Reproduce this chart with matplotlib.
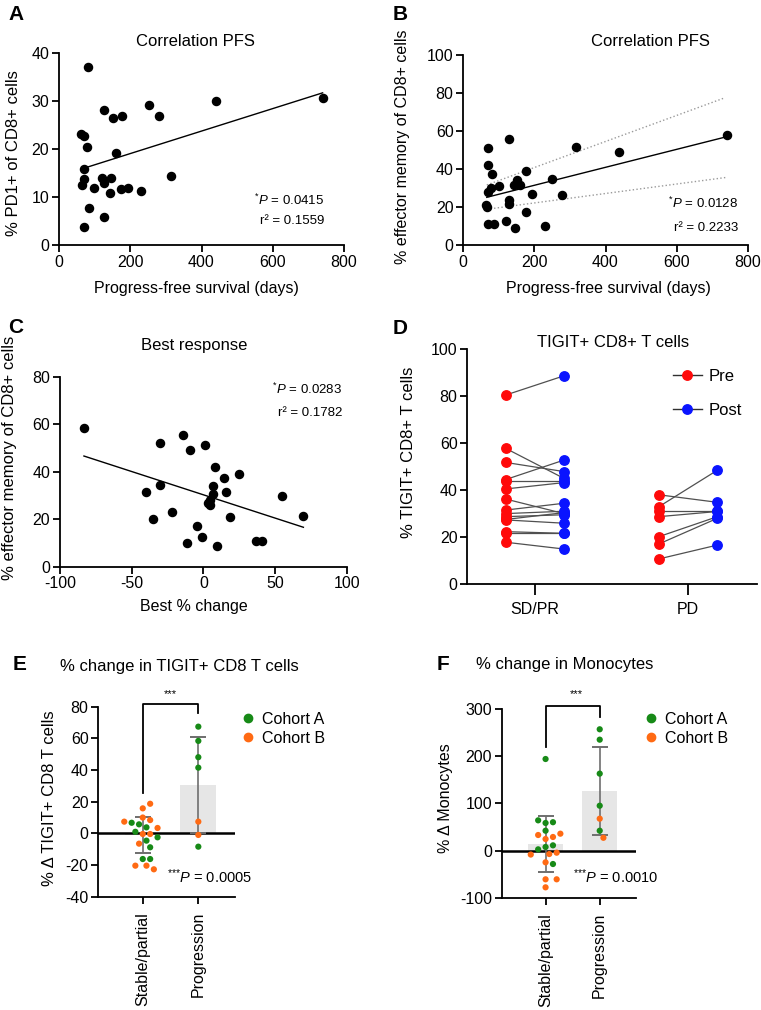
import numpy as np
import matplotlib
matplotlib.use('Agg')
import matplotlib.pyplot as plt
from matplotlib.lines import Line2D

plt.rcParams['font.family'] = ['Liberation Sans', 'DejaVu Sans']
plt.rcParams['mathtext.fontset'] = 'custom'
plt.rcParams['mathtext.rm'] = 'Liberation Sans'
plt.rcParams['mathtext.it'] = 'Liberation Sans:italic'
plt.rcParams['mathtext.bf'] = 'Liberation Sans:bold'
plt.rcParams['axes.unicode_minus'] = False

W, H = 761, 1010
TICK_FS = 11.5
LAB_FS = 11.5
TITLE_FS = 12

# ---------------- data ----------------
# Panel A: PFS (days) vs % PD1+ of CD8+
a_pfs = [81, 127, 152, 176, 252, 280, 441, 741, 62, 70, 79, 160, 70, 70, 65, 99,
         120, 127, 146, 142, 174, 195, 230, 315, 83, 127, 70]
a_pd1 = [37.0, 28.1, 26.4, 26.9, 29.1, 26.9, 29.9, 30.6, 23.1, 22.8, 20.4, 19.2,
         15.8, 13.8, 12.4, 11.8, 13.9, 13.0, 14.0, 10.9, 11.6, 11.8, 11.3, 14.3,
         7.8, 5.8, 3.7]
a_fit_x = [70, 740]
a_fit_y = [16.0, 31.7]

# Panel B: PFS vs % effector memory of CD8+
b_pfs = [69, 128, 69, 82, 175, 316, 438, 741, 250, 100, 151, 143, 160, 78, 69,
         194, 279, 128, 128, 63, 66, 175, 121, 69, 86, 146, 230]
b_em = [51.0, 55.6, 41.9, 37.2, 38.8, 51.7, 48.8, 58.1, 34.7, 30.9, 34.2, 31.4,
        31.6, 30.0, 27.7, 26.8, 26.1, 23.5, 21.6, 20.9, 20.0, 17.2, 12.8, 11.2,
        11.2, 8.9, 10.0]
b_fit_x = [66, 741]
b_fit_y = [25.1, 57.0]
b_ci_hi_x = [66, 736]
b_ci_hi_y = [31.6, 77.5]
b_ci_lo_x = [66, 741]
b_ci_lo_y = [18.8, 35.6]

# Panel C: best % change vs % effector memory
c_change = [-83.3, -30.2, -14.2, -9.1, 1.4, -30.2, -40.0, -34.9, -22.1, -4.4, -11.4,
            -0.9, 9.8, 8.4, 14.7, 24.7, 6.7, 6.7, 15.8, 4.7, 3.3, 4.7, 18.8, 36.5,
            40.7, 54.7, 69.8]
c_em = [58.3, 52.0, 55.4, 49.0, 51.1, 34.5, 31.3, 20.2, 23.2, 17.3, 9.8, 12.6, 8.8,
        42.0, 37.2, 38.9, 34.0, 30.5, 31.5, 28.1, 26.7, 25.9, 20.9, 10.8, 10.8,
        29.6, 21.3]
c_fit_x = [-83.3, 69.8]
c_fit_y = [46.6, 16.6]

# Panel D: TIGIT+ CD8+ T cells pre/post
d_groups = ['SD/PR', 'PD']
d_sdpr_pre = [80.5, 57.8, 51.8, 44.5, 44.0, 40.5, 36.2, 31.5, 30.0, 28.7, 27.5,
              27.3, 22.3, 21.6, 17.8]
d_sdpr_post = [88.7, 45.0, 47.9, 52.8, 44.0, 43.2, 30.0, 34.4, 31.0, 29.5, 30.4,
               25.9, 21.6, 21.6, 14.9]
d_pd_pre = [38.0, 33.0, 30.9, 28.7, 20.2, 17.1, 10.7]
d_pd_post = [34.8, 48.5, 30.9, 30.9, 28.7, 28.0, 16.6]

# Panel E: % change in TIGIT+ CD8 T cells
e_groups = ['Stable/partial', 'Progression']
e_stable_A = [6.7, 5.7, 3.8, 1.0, -2.5, -4.6, -8.8, -16.2, -16.2]
e_stable_B = [18.7, 15.8, 10.0, 8.4, 7.4, 3.4, -0.4, -0.4, -6.5, -20.4, -20.4, -22.7]
e_prog_A = [67.4, 58.4, 48.1, 41.5, -8.4]
e_prog_B = [7.4, -1.0]
e_mean = [-1.0, 30.5]
e_sd = [11.5, 30.5]

# Panel F: % change in Monocytes
f_stable_A = [194, 64, 60, 58.4, 42, 11, 7.5, 2.5, -28.6]
f_stable_B = [35.7, 32.9, 28.7, 24.4, -4.6, -7.4, -8.5, -25, -61, -61, -78]
f_prog_A = [257, 235, 163, 95, 42]
f_prog_B = [67.5, 27]
f_mean = [14, 126.5]
f_sd = [59, 93]

GREEN = '#178a17'
ORANGE = '#ff6a13'
RED = '#ff0a0a'
BLUE = '#0a14ff'

fig = plt.figure(figsize=(W / 100, H / 100), dpi=100)


def add_ax(l, t, r, b):
    return fig.add_axes([l / W, 1 - b / H, (r - l) / W, (b - t) / H])


def ftext(x, y, s, **kw):
    fig.text(x / W, 1 - y / H, s, **kw)


def style(ax):
    for s in ['top', 'right']:
        ax.spines[s].set_visible(False)
    for s in ['left', 'bottom']:
        ax.spines[s].set_linewidth(1.3)
    ax.tick_params(direction='out', length=5, width=1.3, labelsize=TICK_FS, pad=2)


# ---------------- Panel A ----------------
axA = add_ax(59, 53, 344, 245)
style(axA)
axA.scatter(a_pfs, a_pd1, s=34, color='black', zorder=3, clip_on=False)
axA.plot(a_fit_x, a_fit_y, color='black', lw=1.0)
axA.set_xlim(0, 800)
axA.set_ylim(0, 40)
axA.set_xticks([0, 200, 400, 600, 800])
axA.set_yticks([0, 10, 20, 30, 40])
ftext(8, 14, 'A', fontsize=15, fontweight='bold', va='center', ha='left')
ftext(195, 41, 'Correlation PFS', fontsize=TITLE_FS, ha='center', va='center')
ftext(196, 289, 'Progress-free survival (days)', fontsize=LAB_FS, ha='center', va='center')
ftext(14, 153, '% PD1+ of CD8+ cells', fontsize=12, ha='center', va='center', rotation=90)
ftext(324, 200, r'$^{*}P$ = 0.0415', fontsize=9.5, ha='right', va='center')
ftext(324, 221.5, 'r² = 0.1559', fontsize=9.5, ha='right', va='center')

# ---------------- Panel B ----------------
axB = add_ax(463.3, 55, 747.7, 245)
style(axB)
axB.scatter(b_pfs, b_em, s=34, color='black', zorder=3, clip_on=False)
axB.plot(b_fit_x, b_fit_y, color='black', lw=1.0)
axB.plot(b_ci_hi_x, b_ci_hi_y, color='#9a9a9a', lw=1.0, ls=':')
axB.plot(b_ci_lo_x, b_ci_lo_y, color='#9a9a9a', lw=1.0, ls=':')
axB.set_xlim(0, 800)
axB.set_ylim(0, 100)
axB.set_xticks([0, 200, 400, 600, 800])
axB.set_yticks([0, 20, 40, 60, 80, 100])
ftext(393, 14, 'B', fontsize=15, fontweight='bold', va='center', ha='left')
ftext(650, 42, 'Correlation PFS', fontsize=TITLE_FS, ha='center', va='center')
ftext(608, 289, 'Progress-free survival (days)', fontsize=LAB_FS, ha='center', va='center')
ftext(403, 147, '% effector memory of CD8+ cells', fontsize=11.5, ha='center', va='center', rotation=90)
ftext(738, 203, r'$^{*}P$ = 0.0128', fontsize=9.5, ha='right', va='center')
ftext(738, 228, 'r² = 0.2233', fontsize=9.5, ha='right', va='center')

# ---------------- Panel C ----------------
axC = add_ax(60, 376.7, 346.7, 566.7)
style(axC)
axC.scatter(c_change, c_em, s=34, color='black', zorder=3, clip_on=False)
axC.plot(c_fit_x, c_fit_y, color='black', lw=1.0)
axC.set_xlim(-100, 100)
axC.set_ylim(0, 80)
axC.set_xticks([-100, -50, 0, 50, 100])
axC.set_yticks([0, 20, 40, 60, 80])
ftext(8, 327, 'C', fontsize=15, fontweight='bold', va='center', ha='left')
ftext(194, 345, 'Best response', fontsize=TITLE_FS, ha='center', va='center')
ftext(194, 607, 'Best % change', fontsize=LAB_FS, ha='center', va='center')
ftext(10, 458, '% effector memory of CD8+ cells', fontsize=12, ha='center', va='center', rotation=90)
ftext(342, 389, r'$^{*}P$ = 0.0283', fontsize=9.5, ha='right', va='center')
ftext(342, 412.7, 'r² = 0.1782', fontsize=9.5, ha='right', va='center')

# ---------------- Panel D ----------------
axD = add_ax(467.3, 349.3, 756.7, 584)
style(axD)
axD.tick_params(axis='x', length=8, pad=5)
dx = 0.19
for gi, (pre, post) in enumerate([(d_sdpr_pre, d_sdpr_post), (d_pd_pre, d_pd_post)]):
    for p0, p1 in zip(pre, post):
        axD.plot([gi - dx, gi + dx], [p0, p1], color='#505050', lw=0.9, zorder=2)
    axD.plot([gi - dx] * len(pre), pre, 'o', color=RED, ms=6.8, ls='', zorder=3)
    axD.plot([gi + dx] * len(post), post, 'o', color=BLUE, ms=6.8, ls='', zorder=3)
axD.set_xlim(-0.44, 1.446)
axD.set_ylim(0, 100)
axD.set_xticks([0, 1])
axD.set_xticklabels(d_groups)
axD.set_yticks([0, 20, 40, 60, 80, 100])
hD = [Line2D([], [], color='#303030', lw=1, marker='o', ms=6.8, mfc=RED, mec=RED),
      Line2D([], [], color='#303030', lw=1, marker='o', ms=6.8, mfc=BLUE, mec=BLUE)]
axD.legend(hD, ['Pre', 'Post'], loc='upper left', bbox_to_anchor=(672.7 / W, 1 - 369 / H),
           bbox_transform=fig.transFigure, frameon=False, handlelength=1.75,
           handletextpad=0.4, labelspacing=1.15, borderpad=0, borderaxespad=0, fontsize=12)
ftext(393, 328, 'D', fontsize=15, fontweight='bold', va='center', ha='left')
ftext(613, 342.5, 'TIGIT+ CD8+ T cells', fontsize=TITLE_FS, ha='center', va='center')
ftext(409, 452, '% TIGIT+ CD8+ T cells', fontsize=12, ha='center', va='center', rotation=90)


# ---------------- swarm helper ----------------
def swarm(ax, xc, ys, diam_px=7.4, step_frac=0.5):
    trans = ax.transData
    inv = trans.inverted()
    cx = trans.transform((xc, 0))[0]
    ypx = [trans.transform((xc, y))[1] for y in ys]
    order = np.argsort(np.abs(np.array(ys) - np.median(ys)))
    placed = []
    xs = np.zeros(len(ys))
    step = diam_px * step_frac
    for i in order:
        for k in range(0, 60):
            m = (k + 1) // 2
            off = m * step * (1 if k % 2 == 1 else -1)
            px = cx + off
            ok = all((px - qx) ** 2 + (ypx[i] - qy) ** 2 >= diam_px ** 2 for qx, qy in placed)
            if ok:
                placed.append((px, ypx[i]))
                xs[i] = inv.transform((px, ypx[i]))[0]
                break
    return xs


def change_panel(ax, stA, stB, prA, prB, mean, sd, ylim, yticks, bracket, groups):
    style(ax)
    ax.set_ylim(ylim)
    ax.set_yticks(yticks)
    ax.set_xticks([0, 1])
    ax.set_xticklabels(groups, rotation=90, va='top', ha='center')
    ax.tick_params(axis='x', length=5, pad=6)
    ax.bar([0, 1], mean, width=0.65, color='#e6e6e6', zorder=1)
    ax.axhline(0, color='black', lw=1.8, zorder=2)
    ax.errorbar([0, 1], mean, yerr=sd, fmt='none', ecolor='#6e6e6e', elinewidth=1.2,
                capsize=6, capthick=1.4, zorder=3)
    for gi, (A, B) in enumerate([(stA, stB), (prA, prB)]):
        ys = list(A) + list(B)
        cols = [GREEN] * len(A) + [ORANGE] * len(B)
        xs = swarm(ax, gi, ys)
        ax.scatter(xs, ys, s=20, c=cols, zorder=4, clip_on=False, linewidths=0)
    ax.plot([0, 0, 1, 1], bracket, color='black', lw=1.3, clip_on=False, zorder=5)


STARP = r'$^{{*}{*}{*}}P$'

# ---------------- Panel E ----------------
axE = add_ax(98.3, 706.7, 235, 896.7)
axE.set_xlim(-0.8, 1.66)
change_panel(axE, e_stable_A, e_stable_B, e_prog_A, e_prog_B, e_mean, e_sd,
             (-40, 80), [-40, -20, 0, 20, 40, 60, 80], [25.7, 81.7, 81.7, 75.8], e_groups)
hE = [Line2D([], [], ls='', marker='o', ms=6, color=GREEN),
      Line2D([], [], ls='', marker='o', ms=6, color=ORANGE)]
axE.legend(hE, ['Cohort A', 'Cohort B'], loc='upper left', bbox_to_anchor=(240 / W, 1 - 712 / H),
           bbox_transform=fig.transFigure, frameon=False, handlelength=1.0,
           handletextpad=0.4, labelspacing=0.25, borderpad=0, borderaxespad=0, fontsize=11.5)
ftext(13, 665, 'E', fontsize=15, fontweight='bold', va='center', ha='left')
ftext(60, 666.5, '% change in TIGIT+ CD8 T cells', fontsize=TITLE_FS, ha='left', va='center')
ftext(170.7, 694, '***', fontsize=8, ha='center', va='center')
ftext(251.7, 877, STARP + ' = 0.0005', fontsize=10.5, ha='right', va='center')
ftext(49, 798, '% Δ TIGIT+ CD8 T cells', fontsize=12, ha='center', va='center', rotation=90)

# ---------------- Panel F ----------------
axF = add_ax(501.7, 709, 636, 897.7)
axF.set_xlim(-0.81, 1.67)
change_panel(axF, f_stable_A, f_stable_B, f_prog_A, f_prog_B, f_mean, f_sd,
             (-100, 300), [-100, 0, 100, 200, 300], [220, 306.4, 306.4, 283.7], e_groups)
axF.legend(hE, ['Cohort A', 'Cohort B'], loc='upper left', bbox_to_anchor=(643 / W, 1 - 712 / H),
           bbox_transform=fig.transFigure, frameon=False, handlelength=1.0,
           handletextpad=0.4, labelspacing=0.25, borderpad=0, borderaxespad=0, fontsize=11.5)
ftext(437, 665, 'F', fontsize=15, fontweight='bold', va='center', ha='left')
ftext(564.5, 664, '% change in Monocytes', fontsize=TITLE_FS, ha='center', va='center')
ftext(576.7, 694, '***', fontsize=8, ha='center', va='center')
ftext(658, 877, STARP + ' = 0.0010', fontsize=10.5, ha='right', va='center')
ftext(446, 798, '% Δ Monocytes', fontsize=11.5, ha='center', va='center', rotation=90)

fig.savefig('out.png', dpi=100)
